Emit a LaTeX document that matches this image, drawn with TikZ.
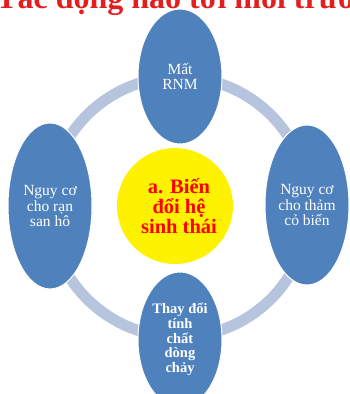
\documentclass[tikz,border=0pt]{standalone}
\usepackage{fontspec}
\setmainfont{Liberation Serif}
\usetikzlibrary{shapes.geometric}
\definecolor{ringc}{RGB}{182,196,222}
\definecolor{ellc}{RGB}{79,129,189}
\definecolor{titlered}{RGB}{228,30,30}
\tikzset{
  petal/.style={ellipse, fill=ellc, draw=white, line width=1pt, inner sep=0pt,
    text=white, align=center, minimum width=84pt, font=\fontsize{15.5}{15.5}\selectfont},
  hub/.style={circle, fill=yellow, inner sep=0pt, minimum size=116pt},
  hubtext/.style={text=red, align=center, inner sep=0pt, font=\bfseries\fontsize{20.5}{20}\selectfont},
  ring/.style={draw=ringc, line width=11pt}
}
\begin{document}
\begin{tikzpicture}[x=1pt,y=-1pt]
\useasboundingbox (0,0) rectangle (349,394);
\clip (0,0) rectangle (349,394);
\node[anchor=base west, text=titlered, font=\bfseries\fontsize{32}{34}\selectfont, inner sep=0pt] (title) at (-4,8) {Tác động nào tới môi trường};
\coordinate (rc) at (179,207);
\draw[ring] (rc) circle[radius=130];
\node[hub] (hub) at (175,206) {};
\node[hubtext] (hubt) at (179,206) {a. Biến\\đổi hệ\\sinh thái};
\node[petal, minimum height=135pt] (top) at (180,76.5) {Mất\\RNM};
\node[petal, minimum height=166pt] (left) at (50,206) {Nguy cơ\\cho rạn\\san hô};
\node[petal, minimum height=160pt] (right) at (307,205) {Nguy cơ\\cho thảm\\cỏ biển};
\node[petal, minimum height=135pt, font=\bfseries\fontsize{14.5}{14.7}\selectfont] (bottom) at (180,339.5) {Thay đổi\\tính\\chất\\dòng\\chảy};
\end{tikzpicture}
\end{document}
